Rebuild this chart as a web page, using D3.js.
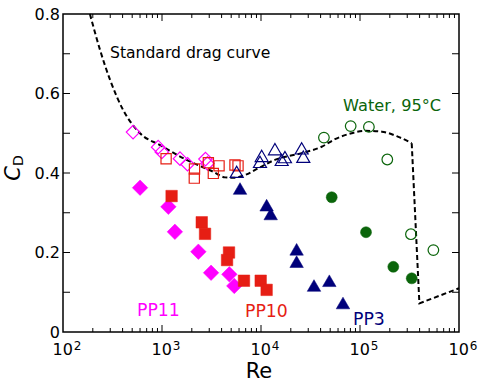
<!DOCTYPE html>
<html><head><meta charset="utf-8">
<script src="https://cdn.jsdelivr.net/npm/d3@7"></script>
<style>
body{margin:0;background:#fff}
svg{display:block}
text{font-family:"DejaVu Sans",sans-serif}
</style>
</head><body>
<svg id="chart" width="479" height="384"></svg>
<script>
// ---- data: [Re, CD] ----
const pp11Open = [[510,0.503],[915,0.465],[995,0.453],[1520,0.436],[1810,0.422],[2750,0.435],[2880,0.424]];
const pp11Solid = [[600,0.363],[1160,0.315],[1350,0.252],[2330,0.202],[3130,0.149],[4790,0.145],[5370,0.116]];
const pp10Open = [[1100,0.436],[2130,0.410],[2120,0.387],[2940,0.426],[3300,0.399],[3770,0.418],[5460,0.420],[5860,0.418]];
const pp10Solid = [[1250,0.342],[2520,0.276],[2720,0.247],[4750,0.200],[4540,0.181],[6730,0.129],[9930,0.129],[11400,0.106]];
const pp3Open = [[5680,0.403],[10160,0.443],[9770,0.428],[13830,0.460],[16180,0.433],[17460,0.440],[25750,0.462],[26750,0.441]];
const pp3Solid = [[6140,0.361],[11400,0.319],[12530,0.297],[22900,0.208],[22900,0.177],[34300,0.117],[49000,0.129],[67300,0.073]];
const waterOpen = [[43200,0.489],[80500,0.518],[123000,0.516],[188700,0.434],[327000,0.246],[551000,0.206]];
const waterSolid = [[51800,0.339],[115000,0.251],[217000,0.164],[333000,0.135]];
const dragCurveSmooth = [[187,0.8],[237,0.709],[299,0.634],[406,0.558],[600,0.5],[955,0.47],[1770,0.433],[3300,0.403],[4330,0.389],[5250,0.388],[6890,0.395],[9400,0.412],[13800,0.433],[25800,0.45],[41000,0.466],[55800,0.485],[82400,0.5],[112000,0.506],[166000,0.504],[244000,0.491],[333000,0.475]];
const dragCurveCrisis = [[333000,0.475],[398000,0.072],[1000000,0.11]];
const xTickExps = [2,3,4,5,6];
const yTickLabels = [0,0.2,0.4,0.6,0.8];

const colMagenta = "#ff00ff", colRed = "#e61e14", colNavy = "#00007a", colGreen = "#0b650b";

const svg = d3.select("#chart");
const L = 63, R = 459, T = 14, B = 332;
const x = d3.scaleLog().domain([1e2,1e6]).range([L,R]);
const y = d3.scaleLinear().domain([0,0.8]).range([B,T]);

// curve
const lineSmooth = d3.line().x(d=>x(d[0])).y(d=>y(d[1])).curve(d3.curveMonotoneX);
const lineLin = d3.line().x(d=>x(d[0])).y(d=>y(d[1]));
svg.append("path").attr("d", lineSmooth(dragCurveSmooth)).attr("fill","none")
  .attr("stroke","#000").attr("stroke-width",2).attr("stroke-dasharray","5,3");
svg.append("path").attr("d", lineLin(dragCurveCrisis)).attr("fill","none")
  .attr("stroke","#000").attr("stroke-width",2).attr("stroke-dasharray","5,3");

// marker shapes
function diamond(d){ return `M0,${-d/2}L${d/2},0L0,${d/2}L${-d/2},0Z`; }
function square(s){ return `M${-s/2},${-s/2}h${s}v${s}h${-s}Z`; }
function tri(w){ const h=w*Math.sqrt(3)/2; return `M0,${-h/2}L${w/2},${h/2}L${-w/2},${h/2}Z`; }

function plot(data, path, color, filled){
  svg.append("g").selectAll("path").data(data).join("path")
    .attr("transform", d=>`translate(${x(d[0])},${y(d[1])})`)
    .attr("d", path)
    .attr("fill", filled ? color : "none")
    .attr("stroke", color)
    .attr("stroke-width", filled ? 0.5 : 1.2);
}
function plotCircles(data, r, color, filled){
  svg.append("g").selectAll("circle").data(data).join("circle")
    .attr("cx", d=>x(d[0])).attr("cy", d=>y(d[1])).attr("r", r)
    .attr("fill", filled ? color : "none")
    .attr("stroke", color).attr("stroke-width", filled ? 0.5 : 1.2);
}
plot(pp11Open, diamond(13.5), colMagenta, false);
plot(pp10Open, square(10.2), colRed, false);
plot(pp3Open, tri(13), colNavy, false);
plotCircles(waterOpen, 5.3, colGreen, false);
plot(pp11Solid, diamond(15.5), colMagenta, true);
plot(pp10Solid, square(11.5), colRed, true);
plot(pp3Solid, tri(13.5), colNavy, true);
plotCircles(waterSolid, 5.5, colGreen, true);

// frame
svg.append("rect").attr("x",L).attr("y",T).attr("width",R-L).attr("height",B-T)
  .attr("fill","none").attr("stroke","#000").attr("stroke-width",1.5);

// x ticks
const ticksG = svg.append("g").attr("stroke","#000").attr("stroke-width",1);
for (let e=2; e<6; e++){
  for (let m=1; m<10; m++){
    const v = m*Math.pow(10,e);
    const len = m===1 ? 7 : 4;
    const px = x(v);
    if (m===1 && e===2) continue;
    ticksG.append("line").attr("x1",px).attr("x2",px).attr("y1",B).attr("y2",B-len);
    ticksG.append("line").attr("x1",px).attr("x2",px).attr("y1",T).attr("y2",T+len);
  }
}
// y ticks
for (let i=1; i<8; i++){
  const py = y(i/10);
  ticksG.append("line").attr("x1",L).attr("x2",L+7).attr("y1",py).attr("y2",py);
  ticksG.append("line").attr("x1",R).attr("x2",R-7).attr("y1",py).attr("y2",py);
}

// x tick labels
xTickExps.forEach(e=>{
  const t = svg.append("text").attr("x", x(Math.pow(10,e))+4).attr("y",355)
    .attr("text-anchor","middle").attr("font-size",16).attr("fill","#000");
  t.append("tspan").text("10");
  t.append("tspan").attr("dy",-5).attr("dx",1).attr("font-size",12).text(e);
});
// y tick labels
yTickLabels.forEach(v=>{
  svg.append("text").attr("x",60).attr("y",y(v)+5.5).attr("text-anchor","end")
    .attr("font-size",16).attr("fill","#000").text(v===0?"0":v.toFixed(1));
});

// axis titles
svg.append("text").attr("x",259).attr("y",378).attr("text-anchor","middle")
  .attr("font-size",21).attr("fill","#000").text("Re");
const yt = svg.append("text").attr("transform","translate(20,168) rotate(-90)")
  .attr("text-anchor","middle").attr("fill","#000");
yt.append("tspan").attr("font-size",21).attr("font-style","italic").text("C");
yt.append("tspan").attr("font-size",14).attr("dy",3).text("D");

// annotations
svg.append("text").attr("x",110).attr("y",57.5).attr("font-size",15.6).attr("fill","#000").text("Standard drag curve");
svg.append("text").attr("x",343).attr("y",110.5).attr("font-size",16.2).attr("fill",colGreen).text("Water, 95°C");
svg.append("text").attr("x",137).attr("y",316).attr("font-size",17.3).attr("fill",colMagenta).text("PP11");
svg.append("text").attr("x",245).attr("y",317).attr("font-size",17.3).attr("fill",colRed).text("PP10");
svg.append("text").attr("x",353).attr("y",325).attr("font-size",17.3).attr("fill",colNavy).text("PP3");
</script>
</body></html>
